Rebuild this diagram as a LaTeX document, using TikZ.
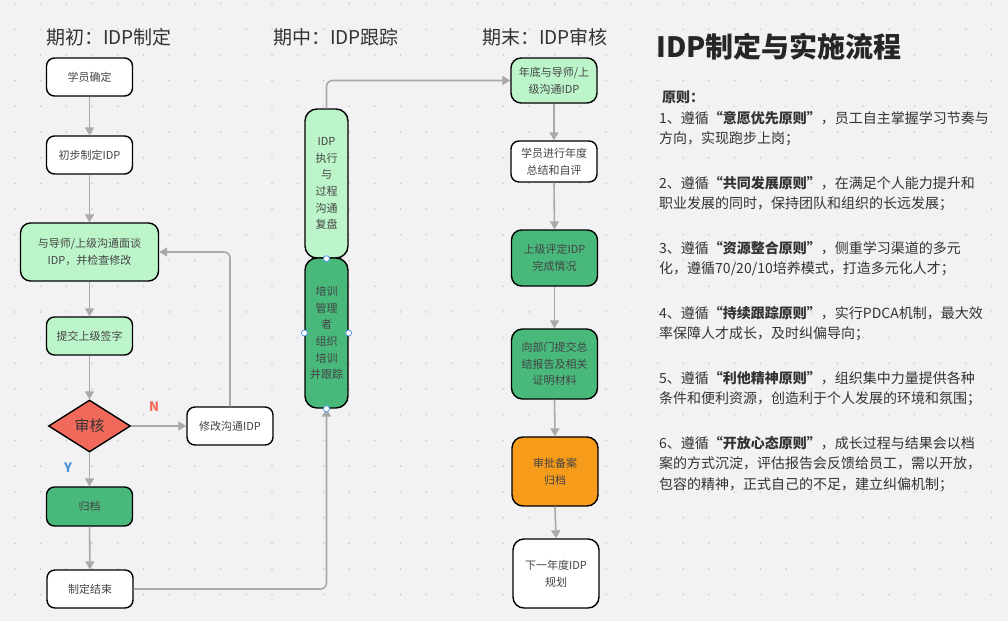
\documentclass[tikz,border=0pt]{standalone}
\usepackage{fontspec}
\setmainfont{Noto Sans CJK SC}
\usetikzlibrary{arrows.meta,shapes.geometric}
\definecolor{bg}{HTML}{F2F2F5}
\definecolor{dotc}{HTML}{C9C9CE}
\definecolor{lgreen}{HTML}{BDF5CA}
\definecolor{dgreen}{HTML}{48B87B}
\definecolor{orng}{HTML}{F79B1B}
\definecolor{redd}{HTML}{F0695A}
\definecolor{arrc}{HTML}{A9A9A9}
\definecolor{txt}{HTML}{444444}
\definecolor{ink}{HTML}{333333}
\definecolor{nred}{HTML}{F06A55}
\definecolor{yblue}{HTML}{4A90D9}
\definecolor{hblue}{HTML}{5B9BE8}
\tikzset{
  flowbox/.style={draw=black, line width=1.4pt, rounded corners=8pt, minimum width=86pt,
    minimum height=38pt, align=center, inner sep=2pt, text=txt, font=\fontsize{11}{16.7}\selectfont},
  colbox/.style={flowbox, minimum width=43pt, rounded corners=12pt},
  checkbox/.style={diamond, draw=black, line width=1.4pt, fill=redd, aspect=1.58, inner sep=0pt,
    minimum width=82pt, minimum height=52pt, text=ink, font=\fontsize{15}{18}\selectfont},
  link/.style={draw=arrc, line width=1.6pt, -{Triangle[width=9pt,length=8pt]}, rounded corners=6pt},
  phase/.style={anchor=west, inner sep=0pt, text=ink, font=\fontsize{19}{22}\selectfont},
  rule/.style={anchor=north west, align=left, inner sep=0pt, text=ink, font=\fontsize{14}{20.5}\selectfont},
  handle/.style={circle, draw=hblue, fill=white, line width=0.8pt, inner sep=0pt, minimum size=6pt},
}
\begin{document}
\begin{tikzpicture}[x=1pt, y=-1pt]
  % canvas and dot grid
  \fill[bg] (0,0) rectangle (1008,621);
  \foreach \i in {0,...,38}{\foreach \j in {0,...,23}{\fill[dotc] ({15+25.7*\i},{3.5+25.7*\j}) circle (0.9);}}

  % phase titles
  \node[phase] (t1) at (46,37) {期初：IDP制定};
  \node[phase] (t2) at (273,37) {期中：IDP跟踪};
  \node[phase] (t3) at (482,37) {期末：IDP审核};

  % phase 1
  \node[flowbox, fill=white] (s1) at (89.5,77) {学员确定};
  \node[flowbox, fill=white] (s2) at (89.5,155) {初步制定IDP};
  \node[flowbox, fill=lgreen, minimum width=138pt, minimum height=58pt, rounded corners=10pt] (s3) at (89.5,252) {与导师/上级沟通面谈\\IDP，并检查修改};
  \node[flowbox, fill=lgreen] (s4) at (89.5,336) {提交上级签字};
  \node[checkbox] (chk) at (89.5,426) {审核};
  \node[flowbox, fill=white] (rev) at (230,426) {修改沟通IDP};
  \node[flowbox, fill=dgreen, minimum height=39pt] (arch) at (89.5,506.5) {归档};
  \node[flowbox, fill=white] (fin) at (90,589) {制定结束};
  \node[text=nred, font=\fontsize{13}{15}\selectfont\bfseries] (nlab) at (154,407) {N};
  \node[text=yblue, font=\fontsize{13}{15}\selectfont\bfseries] (ylab) at (68,468) {Y};

  % phase 2
  \node[colbox, fill=lgreen, minimum height=149pt] (lmid) at (326.5,183.5) {IDP\\执行\\与\\过程\\沟通\\复盘};
  \node[colbox, fill=dgreen, minimum height=150pt] (dmid) at (326.5,333) {培训\\管理\\者\\组织\\培训\\并跟踪};

  % phase 3
  \node[flowbox, fill=lgreen, minimum height=45pt, rounded corners=10pt] (r1) at (554,80.5) {年底与导师/上\\级沟通IDP};
  \node[flowbox, fill=white, minimum height=41pt] (r2) at (554,161.5) {学员进行年度\\总结和自评};
  \node[flowbox, fill=dgreen, minimum height=56pt, rounded corners=10pt] (r3) at (554.5,258) {上级评定IDP\\完成情况};
  \node[flowbox, fill=dgreen, minimum height=70pt, rounded corners=11pt] (r4) at (554.5,364) {向部门提交总\\结报告及相关\\证明材料};
  \node[flowbox, fill=orng, minimum height=69pt, rounded corners=11pt] (r5) at (555,471.5) {审批备案\\归档};
  \node[flowbox, fill=white, minimum height=69pt, rounded corners=11pt] (r6) at (556,573.5) {下一年度IDP\\规划};

  % connectors
  \draw[link] (s1) -- (s2);
  \draw[link] (s2) -- (s3);
  \draw[link] (s3) -- (s4);
  \draw[link] (s4) -- (chk);
  \draw[link] (chk) -- (rev);
  \draw[link] (chk) -- (arch);
  \draw[link] (arch) -- (fin);
  \draw[link] (rev.north) |- (s3.east);
  \draw[link] (fin.east) -| (dmid.south);
  \draw[link] (lmid.north) |- (r1.west);
  \draw[link] (r1.south) -- (r2.north);
  \draw[link] (r2.south) -- (r3.north);
  \draw[link] (r3.south) -- (r4.north);
  \draw[link] (r4.south) -- (r5.north);
  \draw[link] (r5.south) -- (r6.north);

  % selection handles
  \node[handle] (h1) at (lmid.south) {};
  \node[handle] (h2) at (dmid.west) {};
  \node[handle] (h3) at (dmid.east) {};
  \node[handle] (h4) at (dmid.south) {};

  % text panel
  \node[anchor=west, inner sep=0pt, text=black!85, font=\fontsize{28}{32}\selectfont\bfseries] (title) at (656,47) {IDP制定与实施流程};
  \node[anchor=west, inner sep=0pt, text=ink, font=\fontsize{14}{18}\selectfont\bfseries] (head) at (662,97) {原则：};
  \node[rule] (p1) at (659,111) {1、遵循{\bfseries “意愿优先原则\symbol{34}}，员工自主掌握学习节奏与\\方向，实现跑步上岗；};
  \node[rule] (p2) at (659,176) {2、遵循{\bfseries “共同发展原则”}，在满足个人能力提升和\\职业发展的同时，保持团队和组织的长远发展；};
  \node[rule] (p3) at (659,241) {3、遵循{\bfseries “资源整合原则”}，侧重学习渠道的多元\\化，遵循70/20/10培养模式，打造多元化人才；};
  \node[rule] (p4) at (659,306) {4、遵循{\bfseries “持续跟踪原则”}，实行PDCA机制，最大效\\率保障人才成长，及时纠偏导向；};
  \node[rule] (p5) at (659,371) {5、遵循{\bfseries “利他精神原则”}，组织集中力量提供各种\\条件和便利资源，创造利于个人发展的环境和氛围；};
  \node[rule] (p6) at (659,436) {6、遵循{\bfseries “开放心态原则”}，成长过程与结果会以档\\案的方式沉淀，评估报告会反馈给员工，需以开放，\\包容的精神，正式自己的不足，建立纠偏机制；};
\end{tikzpicture}
\end{document}
